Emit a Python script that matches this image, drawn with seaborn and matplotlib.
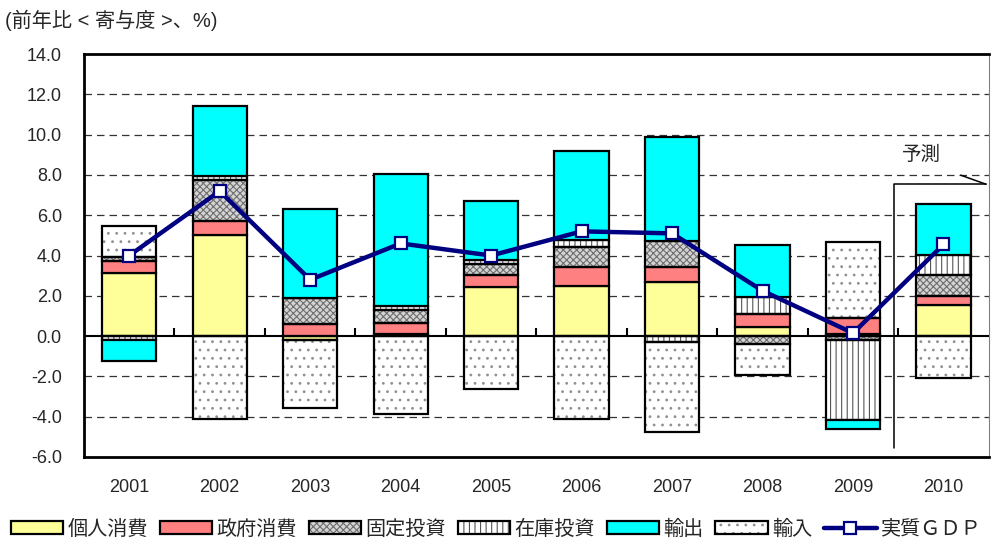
import numpy as np
import seaborn as sns
import matplotlib.pyplot as plt
from matplotlib.patches import Patch
from matplotlib.lines import Line2D

years = ['2001', '2002', '2003', '2004', '2005', '2006', '2007', '2008', '2009', '2010']
personal = [3.15, 5.03, -0.2, 0.1, 2.45, 2.5, 2.7, 0.45, 0.1, 1.55]
government = [0.6, 0.66, 0.6, 0.55, 0.6, 0.95, 0.75, 0.65, 0.8, 0.45]
fixed_inv = [0.2, 2.07, 1.3, 0.65, 0.55, 0.95, 1.25, -0.4, -0.2, 1.05]
inventory = [-0.2, 0.21, 0.0, 0.2, 0.2, 0.35, -0.3, 0.85, -3.95, 1.0]
exports = [-1.03, 3.44, 4.4, 6.55, 2.9, 4.45, 5.2, 2.55, -0.45, 2.5]
imports = [1.52, -4.12, -3.37, -3.87, -2.63, -4.12, -4.46, -1.54, 3.75, -2.08]
gdp = [4.0, 7.2, 2.8, 4.6, 4.0, 5.2, 5.1, 2.25, 0.15, 4.55]

labels = ['個人消費', '政府消費', '固定投資', '在庫投資', '輸出', '輸入']
series = [personal, government, fixed_inv, inventory, exports, imports]
# face colour, hatch, hatch colour
styles = [
    ('#FFFF99', None, None),
    ('#FF8080', None, None),
    ('#d4d4d4', 'xxxxx', '#6e6e6e'),
    ('white', '|||', '#555555'),
    ('#00FFFF', None, None),
    ('white', '..', '#909090'),
]

sns.set_theme(style='white')
plt.rcParams['font.family'] = ['Liberation Sans', 'Noto Sans CJK JP']
plt.rcParams['hatch.linewidth'] = 0.8

fig = plt.figure(figsize=(9.92, 5.43), dpi=100)
ax = fig.add_axes([0.0847, 0.1584, 0.912, 0.742])

x = np.arange(len(years))
width = 0.6
pos_base = np.zeros(len(years))
neg_base = np.zeros(len(years))

handles = []
for vals, lab, (face, hatch, hcol) in zip(series, labels, styles):
    v = np.array(vals, dtype=float)
    bottom = np.where(v >= 0, pos_base, neg_base)
    if hatch:
        ax.bar(x, v, width, bottom=bottom, color=face, hatch=hatch,
               edgecolor=hcol, linewidth=0, zorder=2)
        ax.bar(x, v, width, bottom=bottom, fill=False,
               edgecolor='black', linewidth=1.6, zorder=3)
        h = (Patch(facecolor=face, hatch=hatch, edgecolor=hcol, linewidth=0),
             Patch(fill=False, edgecolor='black', linewidth=1.6))
    else:
        ax.bar(x, v, width, bottom=bottom, color=face,
               edgecolor='black', linewidth=1.6, zorder=3)
        h = Patch(facecolor=face, edgecolor='black', linewidth=1.6)
    handles.append(h)
    pos_base = pos_base + np.where(v > 0, v, 0)
    neg_base = neg_base + np.where(v < 0, v, 0)

sns.lineplot(x=x, y=gdp, ax=ax, color='#000080', linewidth=3.2, marker='s',
             markersize=8, markerfacecolor='white', markeredgecolor='#000080',
             markeredgewidth=1.6, zorder=5)
handles.append(Line2D([], [], color='#000080', linewidth=3.2, marker='s',
                      markersize=8, markerfacecolor='white',
                      markeredgecolor='#000080', markeredgewidth=1.6))
labels_all = labels + ['実質ＧＤＰ']

# axes styling
ax.set_xlim(-0.5, len(years) - 0.5)
ax.set_ylim(-6, 14)
ax.set_yticks(np.arange(-6, 15, 2))
ax.set_yticklabels([f'{t:.1f}' for t in np.arange(-6, 15, 2)], fontsize=13)
ax.set_xticks(x)
ax.set_xticklabels(years, fontsize=13)
ax.tick_params(axis='x', length=0, pad=16)
ax.tick_params(axis='y', length=0, pad=16)
for t in np.arange(-4, 14, 2):
    if t != 0:
        ax.axhline(t, color='#333333', linewidth=0.9, dashes=(6, 4), zorder=1)
ax.axhline(0, color='black', linewidth=1.5, zorder=4)
ax.plot(x[:-1] + 0.5, np.zeros(len(years) - 1), linestyle='none',
        marker=2, markersize=6, markeredgewidth=1.5, color='black', zorder=4)
for side in ['left', 'top', 'bottom']:
    ax.spines[side].set_color('black')
    ax.spines[side].set_linewidth(2)
ax.spines['right'].set_color('#808080')
ax.spines['right'].set_linewidth(0.8)
ax.grid(False)

# forecast bracket
ax.plot([8.45, 8.45, 9.47], [-5.56, 7.54, 7.54], color='black', linewidth=1.1,
        zorder=4, clip_on=False)
ax.plot([9.19, 9.47], [7.99, 7.54], color='black', linewidth=1.1, zorder=4,
        clip_on=False)
ax.text(8.76, 9.0, '予測', fontsize=14, ha='center', va='center')

fig.text(0.005, 0.963, '(前年比 < 寄与度 >、%)', fontsize=14.5, va='center')

fig.legend(handles, labels_all, loc='center', bbox_to_anchor=(0.5, 0.026),
           ncol=7, frameon=False, fontsize=14.5, handlelength=2.6,
           handleheight=0.6, handletextpad=0.2, columnspacing=0.6,
           borderaxespad=0, borderpad=0)

fig.savefig('out.png', dpi=100)
